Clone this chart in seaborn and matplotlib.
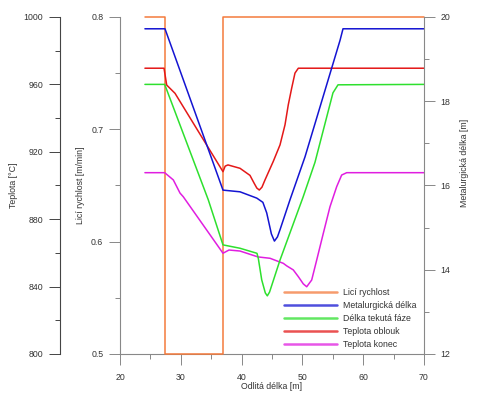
import numpy as np
import pandas as pd
import seaborn as sns
import matplotlib
matplotlib.use("Agg")
import matplotlib.pyplot as plt
from matplotlib.ticker import MultipleLocator

# casting speed (m/min), step profile
speed_x = [24.1, 27.35, 27.35, 37.0, 37.0, 70.0]
speed_y = [0.8, 0.8, 0.5, 0.5, 0.8, 0.8]

# metallurgical length (m)
met_x = [24.1, 27.4, 36.94, 39.74, 42.5, 43.5, 44.13, 44.9, 45.4, 45.9, 46.32, 47.96, 50.43, 56.2, 56.68, 70.0]
met_y = [19.72, 19.72, 15.89, 15.85, 15.7, 15.6, 15.35, 14.85, 14.68, 14.78, 14.95, 15.66, 16.68, 19.45, 19.72, 19.72]

# liquid phase length (m)
liq_x = [24.1, 27.35, 34.52, 36.94, 39.74, 42.53, 42.75, 43.31, 43.9, 44.23, 44.6, 46.32, 50.1, 52.07, 55.03, 55.86, 70.0]
liq_y = [18.40, 18.40, 15.66, 14.59, 14.51, 14.39, 14.27, 13.76, 13.45, 13.38, 13.47, 14.23, 15.72, 16.55, 18.20, 18.39, 18.40]

# temperature at arc (C)
arc_x = [24.1, 27.24, 27.68, 29.05, 36.94, 37.3, 37.76, 39.74, 41.38, 42.04, 42.5, 42.91, 43.35, 43.85, 45.21, 46.32, 47.14,
         47.68, 48.24, 48.78, 49.33, 70.0]
arc_y = [969.6, 969.6, 959.6, 954.7, 908.2, 911.5, 912.2, 910.2, 906.0, 901.5, 898.5, 897.3, 899.0, 903.3, 914.3, 924.1, 936.0,
         947.9, 957.8, 966.7, 969.6, 969.6]

# temperature at end (C)
end_x = [24.1, 27.35, 28.77, 29.87, 30.41, 36.94, 37.93, 39.74, 42.70, 44.67, 46.86, 47.42, 48.50, 49.33, 50.15, 50.71,
         51.53, 52.35, 53.44, 54.54, 55.64, 56.46, 57.29, 70.0]
end_y = [907.6, 907.6, 903.3, 895.5, 893.3, 859.8, 861.7, 861.1, 857.6, 856.8, 853.8, 852.3, 849.9, 845.9, 841.6, 839.9,
         843.9, 855.7, 871.6, 887.4, 899.3, 906.2, 907.6, 907.6]

sns.set_style("ticks")
plt.rcParams['font.family'] = ['Liberation Sans', 'DejaVu Sans']
fs = 6.3
txt = '#333333'

fig = plt.figure(figsize=(4.8, 3.98), dpi=100)
ax = fig.add_axes([0.25, 0.1106, 0.6333, 0.8467])
ax_t = ax.twinx()
ax_l = ax.twinx()

lw = 1.1
sns.lineplot(x=speed_x, y=speed_y, ax=ax, color='#f47a3c', lw=lw, estimator=None, sort=False, legend=False,
             clip_on=False, zorder=5)
sns.lineplot(x=met_x, y=met_y, ax=ax_l, color='#1414d2', lw=lw, estimator=None, sort=False, legend=False)
sns.lineplot(x=liq_x, y=liq_y, ax=ax_l, color='#2ee02e', lw=lw, estimator=None, sort=False, legend=False)
sns.lineplot(x=arc_x, y=arc_y, ax=ax_t, color='#e41818', lw=lw, estimator=None, sort=False, legend=False)
sns.lineplot(x=end_x, y=end_y, ax=ax_t, color='#e01ee0', lw=lw, estimator=None, sort=False, legend=False)

ax.set_xlim(20, 70)
ax.set_ylim(0.5, 0.8)
ax_t.set_ylim(800, 1000)
ax_l.set_ylim(12, 20)

# temperature axis sits on the far left
ax_t.yaxis.set_ticks_position('left')
ax_t.yaxis.set_label_position('left')
ax_t.spines['left'].set_position(('axes', -0.1974))
for a in (ax, ax_t, ax_l):
    a.spines['top'].set_visible(False)
ax.spines['right'].set_visible(False)
ax_t.spines['right'].set_visible(False)
ax_t.spines['bottom'].set_visible(False)
ax_l.spines['left'].set_visible(False)
ax_l.spines['bottom'].set_visible(False)

ax.xaxis.set_major_locator(MultipleLocator(10))
ax.xaxis.set_minor_locator(MultipleLocator(5))
ax.yaxis.set_major_locator(MultipleLocator(0.1))
ax.yaxis.set_minor_locator(MultipleLocator(0.05))
ax_t.yaxis.set_major_locator(MultipleLocator(40))
ax_t.yaxis.set_minor_locator(MultipleLocator(20))
ax_l.yaxis.set_major_locator(MultipleLocator(2))
ax_l.yaxis.set_minor_locator(MultipleLocator(1))
ax.yaxis.set_major_formatter(matplotlib.ticker.FormatStrFormatter('%.1f'))

for a, col in ((ax, '#888888'), (ax_t, '#444444'), (ax_l, '#888888')):
    for s in a.spines.values():
        s.set_color(col)
        s.set_linewidth(0.8)
    a.tick_params(which='major', length=8, width=0.7, color=col, labelsize=fs, labelcolor=txt, pad=4)
    a.tick_params(which='minor', length=3.8, width=0.7, color=col)
ax.tick_params(axis='x', pad=5.5)

ax.set_xlabel('Odlitá délka [m]', fontsize=fs, color=txt, labelpad=0)
ax.set_ylabel('Licí rychlost [m/min]', fontsize=fs, color=txt)
ax_t.set_ylabel('Teplota [°C]', fontsize=fs, color=txt)
ax_l.set_ylabel('Metalurgická délka [m]', fontsize=fs, color=txt)
ax.yaxis.set_label_coords(-0.115, 0.5)
ax_t.yaxis.set_label_coords(-0.3355, 0.5)
ax_l.yaxis.set_label_coords(1.118, 0.567)

labels = ['Licí rychlost', 'Metalurgická délka', 'Délka tekutá fáze', 'Teplota oblouk', 'Teplota konec']
handles = [ax.lines[0], ax_l.lines[0], ax_l.lines[1], ax_t.lines[0], ax_t.lines[1]]
leg = ax_l.legend(handles, labels, loc='lower right', bbox_to_anchor=(0.975, 0.015),
                  frameon=False, fontsize=fs, handlelength=6, handletextpad=0.7,
                  labelspacing=0.46, borderpad=0, borderaxespad=0)
for t in leg.get_texts():
    t.set_color(txt)
for h in leg.legend_handles:
    h.set_linewidth(1.8)
    h.set_alpha(0.75)

fig.savefig('out.png', dpi=100)
